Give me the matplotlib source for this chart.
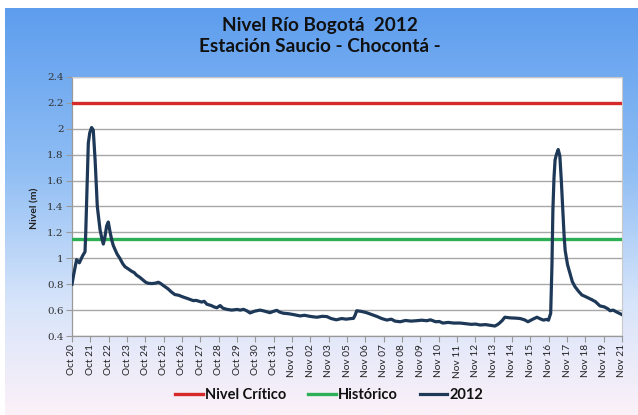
import matplotlib
matplotlib.use("Agg")
import matplotlib.pyplot as plt
import numpy as np
from matplotlib.colors import LinearSegmentedColormap

# ---- data ----
day_labels = ["Oct 20", "Oct 21", "Oct 22", "Oct 23", "Oct 24", "Oct 25", "Oct 26", "Oct 27",
              "Oct 28", "Oct 29", "Oct 30", "Oct 31", "Nov 01", "Nov 02", "Nov 03", "Nov 05",
              "Nov 06", "Nov 07", "Nov 08", "Nov 09", "Nov 10", "Nov 11", "Nov 12", "Nov 13",
              "Nov 14", "Nov 15", "Nov 16", "Nov 17", "Nov 18", "Nov 19", "Nov 21"]

nivel_critico = 2.2
historico = 1.15

pos_2012 = [0.00, 0.10, 0.25, 0.40, 0.48, 0.58, 0.71, 0.75, 0.80, 0.85, 0.89, 0.97, 1.07, 1.16,
            1.26, 1.38, 1.53, 1.65, 1.71, 1.79, 1.89, 1.98, 2.08, 2.17, 2.25, 2.34, 2.47, 2.61,
            2.76, 2.89, 3.05, 3.25, 3.39, 3.52, 3.68, 3.89, 4.02, 4.16, 4.36, 4.55, 4.71, 4.84,
            4.98, 5.23, 5.42, 5.61, 5.81, 6.08, 6.29, 6.62, 6.77, 7.07, 7.21, 7.36, 7.60, 7.74,
            7.90, 8.08, 8.23, 8.44, 8.71, 9.00, 9.19, 9.35, 9.53, 9.71, 9.97, 10.26, 10.50,
            10.80, 10.98, 11.17, 11.32, 11.52, 11.81, 12.10, 12.44, 12.68, 12.97, 13.16, 13.36,
            13.65, 13.90, 14.13, 14.42, 14.71, 14.95, 15.17, 15.35, 15.44, 15.53, 15.78, 16.07,
            16.36, 16.65, 16.89, 17.17, 17.42, 17.61, 17.90, 18.19, 18.49, 18.78, 19.07, 19.36,
            19.55, 19.84, 20.03, 20.23, 20.52, 20.81, 21.17, 21.49, 21.78, 22.02, 22.26, 22.55,
            22.84, 23.07, 23.23, 23.32, 23.47, 23.61, 23.90, 24.20, 24.44, 24.68, 24.87, 25.11,
            25.36, 25.55, 25.71, 25.89, 25.99, 26.11, 26.18, 26.23, 26.29, 26.35, 26.42, 26.52,
            26.61, 26.69, 26.77, 26.84, 26.90, 27.03, 27.17, 27.29, 27.44, 27.63, 27.81, 28.07,
            28.36, 28.55, 28.80, 29.03, 29.23, 29.35, 29.52, 29.71, 29.86, 30.00]

val_2012 = [0.80, 0.88, 0.99, 0.965, 0.99, 1.02, 1.05, 1.20, 1.45, 1.72, 1.89, 1.97, 2.01, 1.99,
            1.76, 1.40, 1.22, 1.14, 1.11, 1.16, 1.25, 1.28, 1.20, 1.14, 1.10, 1.07, 1.03, 1.00,
            0.96, 0.935, 0.92, 0.90, 0.89, 0.87, 0.855, 0.83, 0.815, 0.807, 0.805, 0.808, 0.815, 0.805,
            0.79, 0.765, 0.74, 0.72, 0.715, 0.70, 0.69, 0.673, 0.675, 0.662, 0.668, 0.645, 0.635, 0.625,
            0.618, 0.635, 0.615, 0.606, 0.60, 0.605, 0.60, 0.606, 0.595, 0.578, 0.592, 0.60, 0.592,
            0.58, 0.59, 0.598, 0.585, 0.576, 0.572, 0.565, 0.555, 0.56, 0.552, 0.548, 0.545,
            0.552, 0.55, 0.535, 0.525, 0.535, 0.53, 0.534, 0.536, 0.56, 0.595, 0.59, 0.58,
            0.565, 0.55, 0.535, 0.523, 0.53, 0.515, 0.51, 0.52, 0.515, 0.518, 0.522, 0.518,
            0.525, 0.51, 0.512, 0.50, 0.505, 0.50, 0.50, 0.495, 0.49, 0.492, 0.485, 0.488,
            0.482, 0.477, 0.49, 0.50, 0.52, 0.545, 0.54, 0.538, 0.535, 0.525, 0.51, 0.528,
            0.545, 0.532, 0.523, 0.528, 0.522, 0.575, 0.95, 1.37, 1.62, 1.76, 1.80, 1.84,
            1.79, 1.60, 1.37, 1.18, 1.06, 0.95, 0.88, 0.82, 0.78, 0.745, 0.717, 0.70,
            0.68, 0.665, 0.632, 0.625, 0.61, 0.595, 0.60, 0.585, 0.575, 0.565]

y_ticks = [0.4, 0.6, 0.8, 1.0, 1.2, 1.4, 1.6, 1.8, 2.0, 2.2, 2.4]
y_tick_labels = ["0.4", "0.6", "0.8", "1", "1.2", "1.4", "1.6", "1.8", "2", "2.2", "2.4"]

W, H = 638, 415
fig = plt.figure(figsize=(W / 100, H / 100), dpi=100)
fig.patch.set_facecolor("white")

# background gradient
bg = fig.add_axes([5 / W, 0, (W - 5) / W, 1 - 8 / H], zorder=-10)
cmap = LinearSegmentedColormap.from_list(
    "bg", [(0.0, "#5D9DEE"), (0.40, "#90BEF4"), (0.72, "#D6E4FA"), (1.0, "#FCF1F8")])
grad = np.linspace(0, 1, 256).reshape(-1, 1)
bg.imshow(grad, aspect="auto", cmap=cmap, extent=[0, 1, 1, 0])
bg.set_xlim(0, 1)
bg.set_ylim(1, 0)
bg.axis("off")

ax = fig.add_axes([72 / W, 1 - 336 / H, 550 / W, 259 / H])
ax.set_facecolor("white")

ax.axhline(nivel_critico, color="#D42A2A", lw=2.4, label="Nivel Crítico", zorder=3)
ax.axhline(historico, color="#2DB055", lw=2.4, label="Histórico", zorder=3)
ax.plot(pos_2012, val_2012, color="#1E3858", lw=2.3, label="2012", zorder=4)

ax.set_xlim(0, len(day_labels) - 1)
ax.set_ylim(0.4, 2.4)
ax.set_yticks(y_ticks)
ax.set_yticklabels(y_tick_labels, fontsize=7.5, family="DejaVu Serif", color="#333333")
ax.set_xticks(range(len(day_labels)))
ax.set_xticklabels(day_labels, rotation=90, fontsize=7.3, family="Lato", color="#222222")
ax.grid(axis="y", color="#A8A8A8", lw=1.0)
ax.set_axisbelow(True)
ax.tick_params(axis="both", direction="out", length=4, color="#999999", width=0.8, pad=2)
for s in ["top", "right"]:
    ax.spines[s].set_color("#C8C8C8")
    ax.spines[s].set_linewidth(0.8)
for s in ["left", "bottom"]:
    ax.spines[s].set_color("#999999")
    ax.spines[s].set_linewidth(0.9)

fig.text(35 / W, 1 - 208 / H, "Nivel (m)", rotation=90, ha="center", va="center",
         fontsize=7.5, fontweight="bold", family="Lato", color="#222222")

fig.text(320 / W, 1 - 25 / H, "Nivel Río Bogotá  2012", ha="center", va="center",
         fontsize=13.7, fontweight="bold", family="Lato", color="#111111")
fig.text(320 / W, 1 - 47 / H, "Estación Saucio - Chocontá -", ha="center", va="center",
         fontsize=13.7, fontweight="bold", family="Lato", color="#111111")

leg = fig.legend(loc="center", bbox_to_anchor=(329 / W, 1 - 395 / H), ncol=3, frameon=False,
                 prop={"family": "Lato", "weight": "bold", "size": 10.5}, handlelength=1.9,
                 handletextpad=0.15, columnspacing=1.5)
for t in leg.get_texts():
    t.set_color("#111111")

fig.savefig("out.png", dpi=100)
